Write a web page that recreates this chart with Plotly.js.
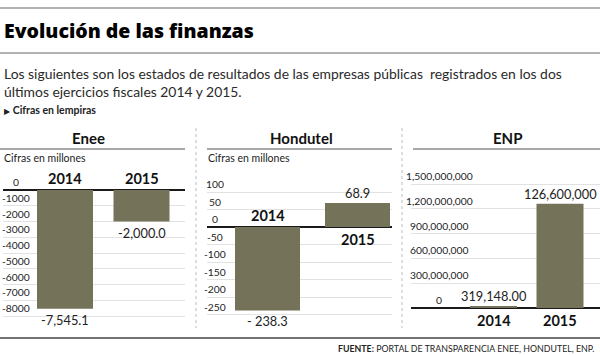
<!DOCTYPE html>
<html>
<head>
<meta charset="utf-8">
<script src="https://cdn.plot.ly/plotly-3.0.1.min.js"></script>
<style>
html,body{margin:0;padding:0;background:#fff;}
#chart{width:600px;height:355px;}
</style>
</head>
<body>
<div id="chart"></div>
<script>
// ---- Data ----
const years = ["2014", "2015"];
const eneeValues = [-7545.1, -2000.0];
const eneeLabels = ["-7,545.1", "-2,000.0"];
const eneeTicks = [0, -1000, -2000, -3000, -4000, -5000, -6000, -7000, -8000];
const eneeTickText = ["0", "-1000", "-2000", "-3000", "-4000", "-5000", "-6000", "-7000", "-8000"];

const hondutelValues = [-238.3, 68.9];
const hondutelLabels = ["- 238.3", "68.9"];
const hondutelTicks = [100, 50, 0, -50, -100, -150, -200, -250];
const hondutelTickText = ["100", "50", "0", "-50", "-100", "-150", "-200", "-250"];

// bar heights as drawn in the picture; labels as printed
const enpValues = [25000000, 1260000000];
const enpLabels = ["319,148.00", "126,600,000"];
const enpTicks = [0, 300000000, 600000000, 900000000, 1200000000, 1500000000];
const enpTickText = ["0", "300,000,000", "600,000,000", "900,000,000", "1,200,000,000", "1,500,000,000"];

// ---- Layout helpers ----
const W = 600, H = 355;
const px = x => x / W;
const py = y => 1 - y / H;
const BAR = "#747359";
const FONT = "Lato, 'Open Sans', sans-serif";
const GRID = "#e2e2e2";

// linear range from two pixel anchors
function yRange(v0, p0, v1, p1, top, bottom) {
  const k = (v1 - v0) / (p1 - p0);
  return [v0 + (bottom - p0) * k, v0 + (top - p0) * k];
}
function xRange(c0, c1, left, right) {
  const k = 1 / (c1 - c0);
  return [-(c0 - left) * k, 1 + (right - c1) * k];
}

const TOP = 165, BOT = 326;
const panels = [
  {vals: eneeValues, labels: eneeLabels, ticks: eneeTicks, tickText: eneeTickText,
   xd: [3, 185], cx: [65, 141.5], bw: 56, y0: 190, yv: -8000, yp: 316, tickCol: 16,
   title: "Enee", titleX: 88, sub: true, subX: 2},
  {vals: hondutelValues, labels: hondutelLabels, ticks: hondutelTicks, tickText: hondutelTickText,
   xd: [207, 392], cx: [267.5, 357.5], bw: 65, y0: 227, yv: -250, yp: 314.5, tickCol: 215,
   title: "Hondutel", titleX: 301, sub: true, subX: 206},
  {vals: enpValues, labels: enpLabels, ticks: enpTicks, tickText: enpTickText,
   xd: [411, 600], cx: [493.5, 560], bw: 47, y0: 308, yv: 1500000000, yp: 184, tickCol: 439,
   title: "ENP", titleX: 507, sub: false}
];

const data = [];
const layout = {
  width: W, height: H,
  margin: {l: 0, r: 0, t: 0, b: 0},
  paper_bgcolor: "#fff", plot_bgcolor: "rgba(0,0,0,0)",
  showlegend: false,
  font: {family: FONT, color: "#222"},
  annotations: [], shapes: []
};

panels.forEach((p, i) => {
  const n = i === 0 ? "" : String(i + 1);
  const xa = "x" + n, ya = "y" + n;
  const span = p.cx[1] - p.cx[0];
  data.push({
    type: "bar", x: [0, 1], y: p.vals, xaxis: xa, yaxis: ya,
    width: p.bw / span, marker: {color: BAR, line: {width: 0}},
    hoverinfo: "none"
  });
  layout["xaxis" + n] = {
    domain: [px(p.xd[0]), px(p.xd[1])], range: xRange(p.cx[0], p.cx[1], p.xd[0], p.xd[1]),
    showgrid: false, zeroline: false, showticklabels: false, ticks: "", fixedrange: true,
    anchor: ya
  };
  layout["yaxis" + n] = {
    domain: [py(BOT), py(TOP)], range: yRange(0, p.y0, p.yv, p.yp, TOP, BOT),
    tickvals: p.ticks, showticklabels: false, ticks: "",
    showgrid: true, gridcolor: GRID, gridwidth: 1,
    zeroline: true, zerolinecolor: "#1a1a1a", zerolinewidth: 2,
    fixedrange: true, anchor: xa
  };
  // tick labels (centered column, sitting just above each gridline)
  p.ticks.forEach((t, j) => {
    layout.annotations.push({
      xref: "paper", yref: ya, x: px(p.tickCol), y: t, text: p.tickText[j],
      showarrow: false, xanchor: "center", yanchor: "bottom", yshift: 0,
      font: {size: 10.3, color: "#222", family: FONT}
    });
  });
  // panel title
  layout.annotations.push({
    xref: "paper", yref: "paper", x: px(p.titleX), y: py(138), text: "<b>" + p.title + "</b>",
    showarrow: false, xanchor: "center", yanchor: "middle",
    font: {size: 15, color: "#111", family: FONT}
  });
  if (p.sub) {
    layout.annotations.push({
      xref: "paper", yref: "paper", x: px(p.subX), y: py(158), text: "Cifras en millones",
      showarrow: false, xanchor: "left", yanchor: "middle",
      font: {size: 10.5, color: "#222", family: FONT}
    });
  }
});

// rules
const hl = (x0, x1, y, c, w, dash) => layout.shapes.push({
  type: "line", xref: "paper", yref: "paper", x0: px(x0), x1: px(x1), y0: py(y), y1: py(y),
  line: {color: c, width: w, dash: dash || "solid"}
});
hl(0, 600, 8, "#9a9a9a", 1.5);
hl(0, 600, 53, "#9a9a9a", 1.5);
hl(0, 185, 149, "#a8a8a8", 2);
hl(207, 392, 149, "#a8a8a8", 2);
hl(413, 600, 149, "#a8a8a8", 2);
hl(0, 600, 338, "#444", 1.5);
[196, 402].forEach(x => layout.shapes.push({
  type: "line", xref: "paper", yref: "paper", x0: px(x), x1: px(x), y0: py(128), y1: py(328),
  line: {color: "#bdbdbd", width: 1, dash: "dot"}
}));

// year and value labels
const yearFont = {size: 14.5, color: "#111", family: FONT, weight: 700};
const valFont = {size: 12.8, color: "#222", family: FONT};
function lab(ya, xa, x, y, text, font, anchor, shift) {
  layout.annotations.push({xref: xa, yref: ya, x: x, y: y, text: text, showarrow: false,
    xanchor: "center", yanchor: anchor, yshift: shift, font: font});
}
// Enee
lab("y", "x", 0, 0, years[0], yearFont, "bottom", 1);
lab("y", "x", 1, 0, years[1], yearFont, "bottom", 1);
lab("y", "x", 0, eneeValues[0], eneeLabels[0], valFont, "top", -1);
lab("y", "x", 1, eneeValues[1], eneeLabels[1], valFont, "top", -1);
// Hondutel
lab("y2", "x2", 0, 0, years[0], yearFont, "bottom", 1);
lab("y2", "x2", 1, 0, years[1], yearFont, "top", -2);
lab("y2", "x2", 0, hondutelValues[0], hondutelLabels[0], valFont, "top", -1);
lab("y2", "x2", 1, hondutelValues[1], hondutelLabels[1], valFont, "bottom", 0);
// ENP
lab("y3", "x3", 0, 0, years[0], yearFont, "top", -2);
lab("y3", "x3", 1, 0, years[1], yearFont, "top", -2);
lab("y3", "x3", 0, enpValues[0], enpLabels[0], valFont, "bottom", 0);
lab("y3", "x3", 1, enpValues[1], enpLabels[1], valFont, "bottom", 0);

// headline texts
layout.annotations.push({
  xref: "paper", yref: "paper", x: px(2), y: py(30), text: "Evolución de las finanzas",
  showarrow: false, xanchor: "left", yanchor: "middle",
  font: {size: 19.5, color: "#000", family: "'Open Sans', Lato, sans-serif", weight: 800}
});
layout.annotations.push({
  xref: "paper", yref: "paper", x: px(2), y: py(82),
  text: "Los siguientes son los estados de resultados de las empresas públicas  registrados en los dos<br>últimos ejercicios fiscales 2014 y 2015.",
  showarrow: false, xanchor: "left", yanchor: "middle", align: "left",
  font: {size: 13.9, color: "#2a2a2a", family: FONT}
});
layout.annotations.push({
  xref: "paper", yref: "paper", x: px(2), y: py(110),
  text: "<span style='font-size:8px'>▶</span> <b>Cifras en lempiras</b>",
  showarrow: false, xanchor: "left", yanchor: "middle",
  font: {size: 10.5, color: "#222", family: FONT}
});
layout.annotations.push({
  xref: "paper", yref: "paper", x: px(596), y: py(348),
  text: "<b>FUENTE:</b> PORTAL DE TRANSPARENCIA ENEE, HONDUTEL, ENP.",
  showarrow: false, xanchor: "right", yanchor: "middle",
  font: {size: 8.8, color: "#222", family: FONT}
});

Plotly.newPlot("chart", data, layout, {displayModeBar: false, staticPlot: true});
</script>
</body>
</html>
